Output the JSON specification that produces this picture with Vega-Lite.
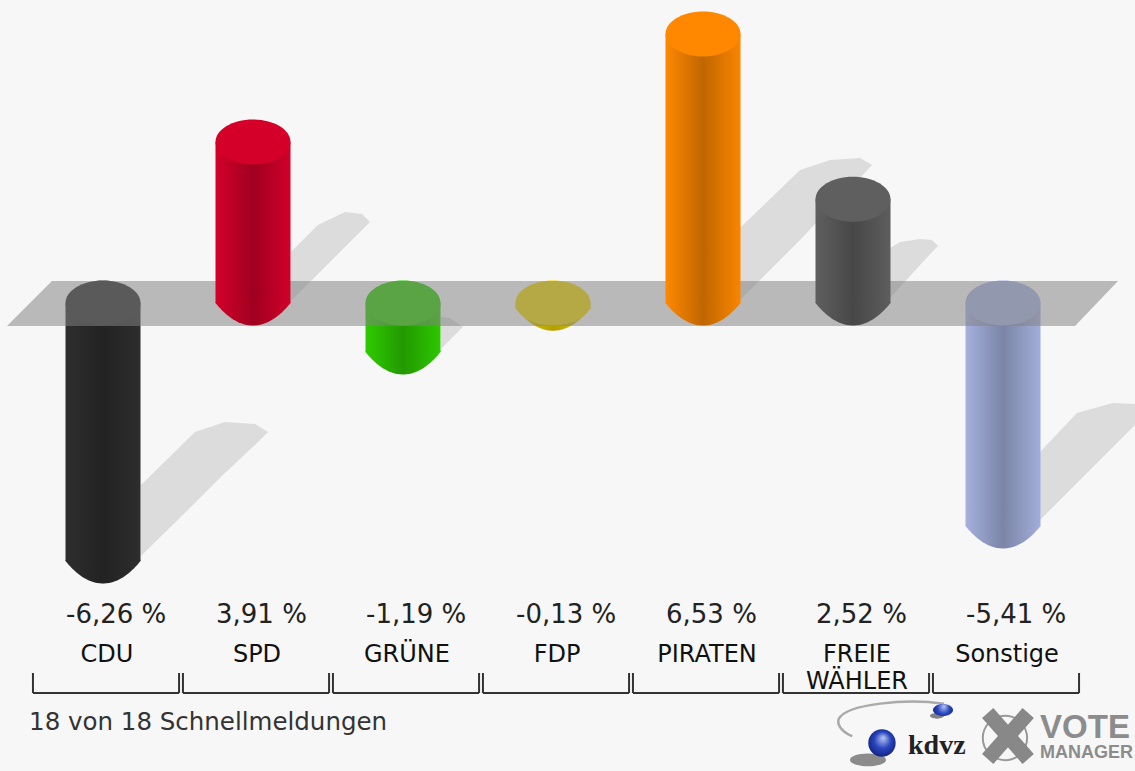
{"$schema":"https://vega.github.io/schema/vega-lite/v6.json","width":1135,"height":771,"autosize":{"type":"none"},"padding":0,"background":"#f7f7f7","view":{"stroke":null},"config":{"axis":{"disable":true}},
"datasets":{"one":[{"note":"annotation"}],"parties":[{"party":"CDU","label":"CDU","slot":1,"value":-6.26,"text":"-6,26 %"},{"party":"SPD","label":"SPD","slot":2,"value":3.91,"text":"3,91 %"},{"party":"GRÜNE","label":"GRÜNE","slot":3,"value":-1.19,"text":"-1,19 %"},{"party":"FDP","label":"FDP","slot":4,"value":-0.13,"text":"-0,13 %"},{"party":"PIRATEN","label":"PIRATEN","slot":5,"value":6.53,"text":"6,53 %"},{"party":"FREIE WÄHLER","label":"FREIE\nWÄHLER","slot":6,"value":2.52,"text":"2,52 %"},{"party":"Sonstige","label":"Sonstige","slot":7,"value":-5.41,"text":"-5,41 %"}],
"shadows":[{"party":"CDU","s":1.253,"a":-4.417,"b":-6.141},{"party":"CDU","s":1.613,"a":-3.131,"b":-4.854},{"party":"CDU","s":1.813,"a":-2.888,"b":-4.126},{"party":"CDU","s":2.013,"a":-2.937,"b":-3.447},{"party":"CDU","s":2.1,"a":-3.131,"b":-3.131},
{"party":"SPD","s":2.253,"a":1.238,"b":0.049},{"party":"SPD","s":2.433,"a":1.893,"b":0.704},{"party":"SPD","s":2.613,"a":2.209,"b":1.359},{"party":"SPD","s":2.727,"a":2.16,"b":1.772},{"party":"SPD","s":2.78,"a":1.966,"b":1.966},
{"party":"GRÜNE","s":3.253,"a":-0.34,"b":-1.117},{"party":"GRÜNE","s":3.313,"a":-0.364,"b":-0.898},{"party":"GRÜNE","s":3.4,"a":-0.583,"b":-0.583},
{"party":"PIRATEN","s":5.247,"a":1.82,"b":0.073},{"party":"PIRATEN","s":5.647,"a":3.228,"b":1.529},{"party":"PIRATEN","s":5.847,"a":3.471,"b":2.306},{"party":"PIRATEN","s":6.047,"a":3.519,"b":3.034},{"party":"PIRATEN","s":6.127,"a":3.35,"b":3.35},
{"party":"FREIE WÄHLER","s":6.247,"a":1.335,"b":0.121},{"party":"FREIE WÄHLER","s":6.313,"a":1.481,"b":0.388},{"party":"FREIE WÄHLER","s":6.447,"a":1.553,"b":0.922},{"party":"FREIE WÄHLER","s":6.527,"a":1.529,"b":1.238},{"party":"FREIE WÄHLER","s":6.567,"a":1.383,"b":1.383},
{"party":"Sonstige","s":7.247,"a":-3.617,"b":-5.267},{"party":"Sonstige","s":7.493,"a":-2.67,"b":-4.369},{"party":"Sonstige","s":7.733,"a":-2.427,"b":-3.495},{"party":"Sonstige","s":7.88,"a":-2.451,"b":-2.961}],
"plane":[{"s":0.36,"a":-0.558,"b":-0.558},{"s":0.66,"a":0.534,"b":-0.558},{"s":7.48,"a":0.534,"b":-0.558},{"s":7.767,"a":0.534,"b":0.534}]},
"data":{"name":"parties"},
"layer":[
{"data":{"name":"shadows"},"mark":{"type":"area","fill":"#dcdcdc"},"encoding":{"x":{"field":"s","type":"quantitative","scale":{"domain":[0.3133,7.88],"nice":false,"zero":false,"padding":0}},"y":{"field":"a","type":"quantitative","scale":{"domain":[-11.359,7.354],"nice":false,"zero":false}},"y2":{"field":"b"},"detail":{"field":"party"}}},
{"transform":[{"filter":"datum.value<0"}],"layer":[
{"mark":{"type":"bar","orient":"vertical","size":75},"encoding":{"x":{"field":"slot","type":"quantitative"},"y":{"field":"value","type":"quantitative"},"y2":{"datum":0},"color":{"field":"party","type":"nominal","legend":null,"sort":null,"scale":{"domain":["CDU","SPD","GRÜNE","FDP","PIRATEN","FREIE WÄHLER","Sonstige"],"range":["#2e2e2e","#d4002a","#2ecb00","#eed400","#ff8800","#5f5f5f","#a5b1de"]}}}},
{"mark":{"type":"bar","orient":"vertical","size":75,"fill":{"gradient":"linear","x1":0,"x2":1,"y1":0,"y2":0,"stops":[{"offset":0,"color":"rgba(0,0,0,0)"},{"offset":0.5,"color":"rgba(0,0,0,0.25)"},{"offset":1,"color":"rgba(0,0,0,0.02)"}]}},"encoding":{"x":{"field":"slot","type":"quantitative"},"y":{"field":"value","type":"quantitative"},"y2":{"datum":0}}},
{"mark":{"type":"point","filled":true,"opacity":1,"size":5625,"shape":"M -1 -0.02 L -1 0 C -0.8 0.25 -0.45 0.6 0 0.6 C 0.45 0.6 0.8 0.25 1 0 L 1 -0.02 Z"},"encoding":{"x":{"field":"slot","type":"quantitative"},"y":{"field":"value","type":"quantitative"},"color":{"field":"party","type":"nominal","legend":null,"sort":null}}},
{"mark":{"type":"point","filled":true,"opacity":1,"size":5625,"shape":"M -1 -0.02 L -1 0 C -0.8 0.25 -0.45 0.6 0 0.6 C 0.45 0.6 0.8 0.25 1 0 L 1 -0.02 Z","fill":{"gradient":"linear","x1":0,"x2":1,"y1":0,"y2":0,"stops":[{"offset":0,"color":"rgba(0,0,0,0)"},{"offset":0.5,"color":"rgba(0,0,0,0.25)"},{"offset":1,"color":"rgba(0,0,0,0.02)"}]}},"encoding":{"x":{"field":"slot","type":"quantitative"},"y":{"field":"value","type":"quantitative"}}},
{"mark":{"type":"point","filled":true,"opacity":1,"size":5625,"shape":"M -1 0 A 1 0.6 0 1 1 1 0 A 1 0.6 0 1 1 -1 0 Z"},"encoding":{"x":{"field":"slot","type":"quantitative"},"y":{"datum":0},"color":{"field":"party","type":"nominal","legend":null,"sort":null}}}
]},
{"data":{"name":"plane"},"mark":{"type":"area","fill":"#828282","opacity":0.53},"encoding":{"x":{"field":"s","type":"quantitative"},"y":{"field":"a","type":"quantitative"},"y2":{"field":"b"}}},
{"transform":[{"filter":"datum.value>=0"}],"layer":[
{"mark":{"type":"bar","orient":"vertical","size":75},"encoding":{"x":{"field":"slot","type":"quantitative"},"y":{"field":"value","type":"quantitative"},"y2":{"datum":0},"color":{"field":"party","type":"nominal","legend":null,"sort":null}}},
{"mark":{"type":"bar","orient":"vertical","size":75,"fill":{"gradient":"linear","x1":0,"x2":1,"y1":0,"y2":0,"stops":[{"offset":0,"color":"rgba(0,0,0,0)"},{"offset":0.5,"color":"rgba(0,0,0,0.25)"},{"offset":1,"color":"rgba(0,0,0,0.02)"}]}},"encoding":{"x":{"field":"slot","type":"quantitative"},"y":{"field":"value","type":"quantitative"},"y2":{"datum":0}}},
{"mark":{"type":"point","filled":true,"opacity":1,"size":5625,"shape":"M -1 -0.02 L -1 0 C -0.8 0.25 -0.45 0.6 0 0.6 C 0.45 0.6 0.8 0.25 1 0 L 1 -0.02 Z"},"encoding":{"x":{"field":"slot","type":"quantitative"},"y":{"datum":0},"color":{"field":"party","type":"nominal","legend":null,"sort":null}}},
{"mark":{"type":"point","filled":true,"opacity":1,"size":5625,"shape":"M -1 -0.02 L -1 0 C -0.8 0.25 -0.45 0.6 0 0.6 C 0.45 0.6 0.8 0.25 1 0 L 1 -0.02 Z","fill":{"gradient":"linear","x1":0,"x2":1,"y1":0,"y2":0,"stops":[{"offset":0,"color":"rgba(0,0,0,0)"},{"offset":0.5,"color":"rgba(0,0,0,0.25)"},{"offset":1,"color":"rgba(0,0,0,0.02)"}]}},"encoding":{"x":{"field":"slot","type":"quantitative"},"y":{"datum":0}}},
{"mark":{"type":"point","filled":true,"opacity":1,"size":5625,"shape":"M -1 0 A 1 0.6 0 1 1 1 0 A 1 0.6 0 1 1 -1 0 Z"},"encoding":{"x":{"field":"slot","type":"quantitative"},"y":{"field":"value","type":"quantitative"},"color":{"field":"party","type":"nominal","legend":null,"sort":null}}}
]},
{"mark":{"type":"text","align":"left","baseline":"alphabetic","xOffset":-37,"font":"DejaVu Sans","fontSize":26,"fill":"#222"},"encoding":{"x":{"field":"slot","type":"quantitative"},"y":{"datum":-7.767},"text":{"field":"text"}}},
{"mark":{"type":"text","align":"center","baseline":"alphabetic","xOffset":4,"font":"DejaVu Sans","fontSize":24,"lineBreak":"\n","lineHeight":27,"fill":"#111"},"encoding":{"x":{"field":"slot","type":"quantitative"},"y":{"datum":-8.714},"text":{"field":"label"}}},
{"transform":[{"calculate":"datum.slot-0.467","as":"from"},{"calculate":"datum.slot+0.507","as":"to"}],"layer":[
{"mark":{"type":"rule","stroke":"#333","strokeWidth":2},"encoding":{"x":{"field":"from","type":"quantitative"},"x2":{"field":"to"},"y":{"datum":-9.466}}},
{"mark":{"type":"rule","stroke":"#333","strokeWidth":2},"encoding":{"x":{"field":"from","type":"quantitative"},"y":{"datum":-8.98},"y2":{"datum":-9.466}}},
{"mark":{"type":"rule","stroke":"#333","strokeWidth":2},"encoding":{"x":{"field":"to","type":"quantitative"},"y":{"datum":-8.98},"y2":{"datum":-9.466}}}
]},
{"data":{"name":"one"},"layer":[
{"mark":{"type":"text","align":"left","baseline":"alphabetic","font":"DejaVu Sans","fontSize":24.5,"fill":"#333"},"encoding":{"x":{"datum":0.507},"y":{"datum":-10.364},"text":{"value":"18 von 18 Schnellmeldungen"}}},
{"mark":{"type":"point","filled":false,"size":1963,"stroke":"#999","strokeWidth":2,"opacity":1,"shape":"circle"},"encoding":{"x":{"datum":7.013},"y":{"datum":-10.558}}},
{"mark":{"type":"point","filled":false,"size":2916,"stroke":"#888","strokeWidth":15,"opacity":1,"shape":"M -0.75 -0.85 L 0.75 0.85 M 0.75 -0.85 L -0.75 0.85"},"encoding":{"x":{"datum":7.033},"y":{"datum":-10.51}}},
{"mark":{"type":"text","align":"left","baseline":"alphabetic","font":"Liberation Sans","fontWeight":"bold","fontSize":33,"fill":"#8c8c8c"},"encoding":{"x":{"datum":7.247},"y":{"datum":-10.56},"text":{"value":"VOTE"}}},
{"mark":{"type":"text","align":"left","baseline":"alphabetic","font":"Liberation Sans","fontWeight":"bold","fontSize":18,"fill":"#8c8c8c"},"encoding":{"x":{"datum":7.247},"y":{"datum":-11.04},"text":{"value":"MANAGER"}}},
{"mark":{"type":"text","align":"left","baseline":"alphabetic","font":"Liberation Serif","fontWeight":"bold","fontSize":28,"fill":"#222"},"encoding":{"x":{"datum":6.367},"y":{"datum":-10.947},"text":{"value":"kdvz"}}},
{"mark":{"type":"point","filled":false,"size":11664,"opacity":1,"stroke":"#aaa","strokeWidth":2.5,"shape":"M 1 -0.3 C 0.3 -0.4 -0.8 -0.3 -0.95 -0.02 C -1 0.1 -0.85 0.25 -0.7 0.3"},"encoding":{"x":{"datum":6.247},"y":{"datum":-10.12}}},
{"mark":{"type":"point","filled":true,"size":1296,"opacity":0.55,"fill":"#333","shape":"M -1 0 A 1 0.35 0 1 1 1 0 A 1 0.35 0 1 1 -1 0 Z"},"encoding":{"x":{"datum":6.1},"y":{"datum":-11.09}}},
{"mark":{"type":"point","filled":true,"size":750,"opacity":1,"shape":"circle","fill":{"gradient":"radial","x1":0.55,"y1":0.3,"r1":0,"x2":0.5,"y2":0.5,"r2":0.6,"stops":[{"offset":0,"color":"#b9c8f0"},{"offset":0.5,"color":"#2a46c0"},{"offset":1,"color":"#0c1c70"}]}},"encoding":{"x":{"datum":6.193},"y":{"datum":-10.68}}},
{"mark":{"type":"point","filled":true,"size":200,"opacity":0.6,"fill":"#333","shape":"M -1 0 A 1 0.4 0 1 1 1 0 A 1 0.4 0 1 1 -1 0 Z"},"encoding":{"x":{"datum":6.56},"y":{"datum":-10.02}}},
{"mark":{"type":"point","filled":true,"size":400,"opacity":1,"shape":"M -1 0 A 1 0.6 0 1 1 1 0 A 1 0.6 0 1 1 -1 0 Z","fill":{"gradient":"radial","x1":0.55,"y1":0.3,"r1":0,"x2":0.5,"y2":0.5,"r2":0.6,"stops":[{"offset":0,"color":"#b9c8f0"},{"offset":0.5,"color":"#2a46c0"},{"offset":1,"color":"#0c1c70"}]}},"encoding":{"x":{"datum":6.6},"y":{"datum":-9.879}}}
]}
]}
